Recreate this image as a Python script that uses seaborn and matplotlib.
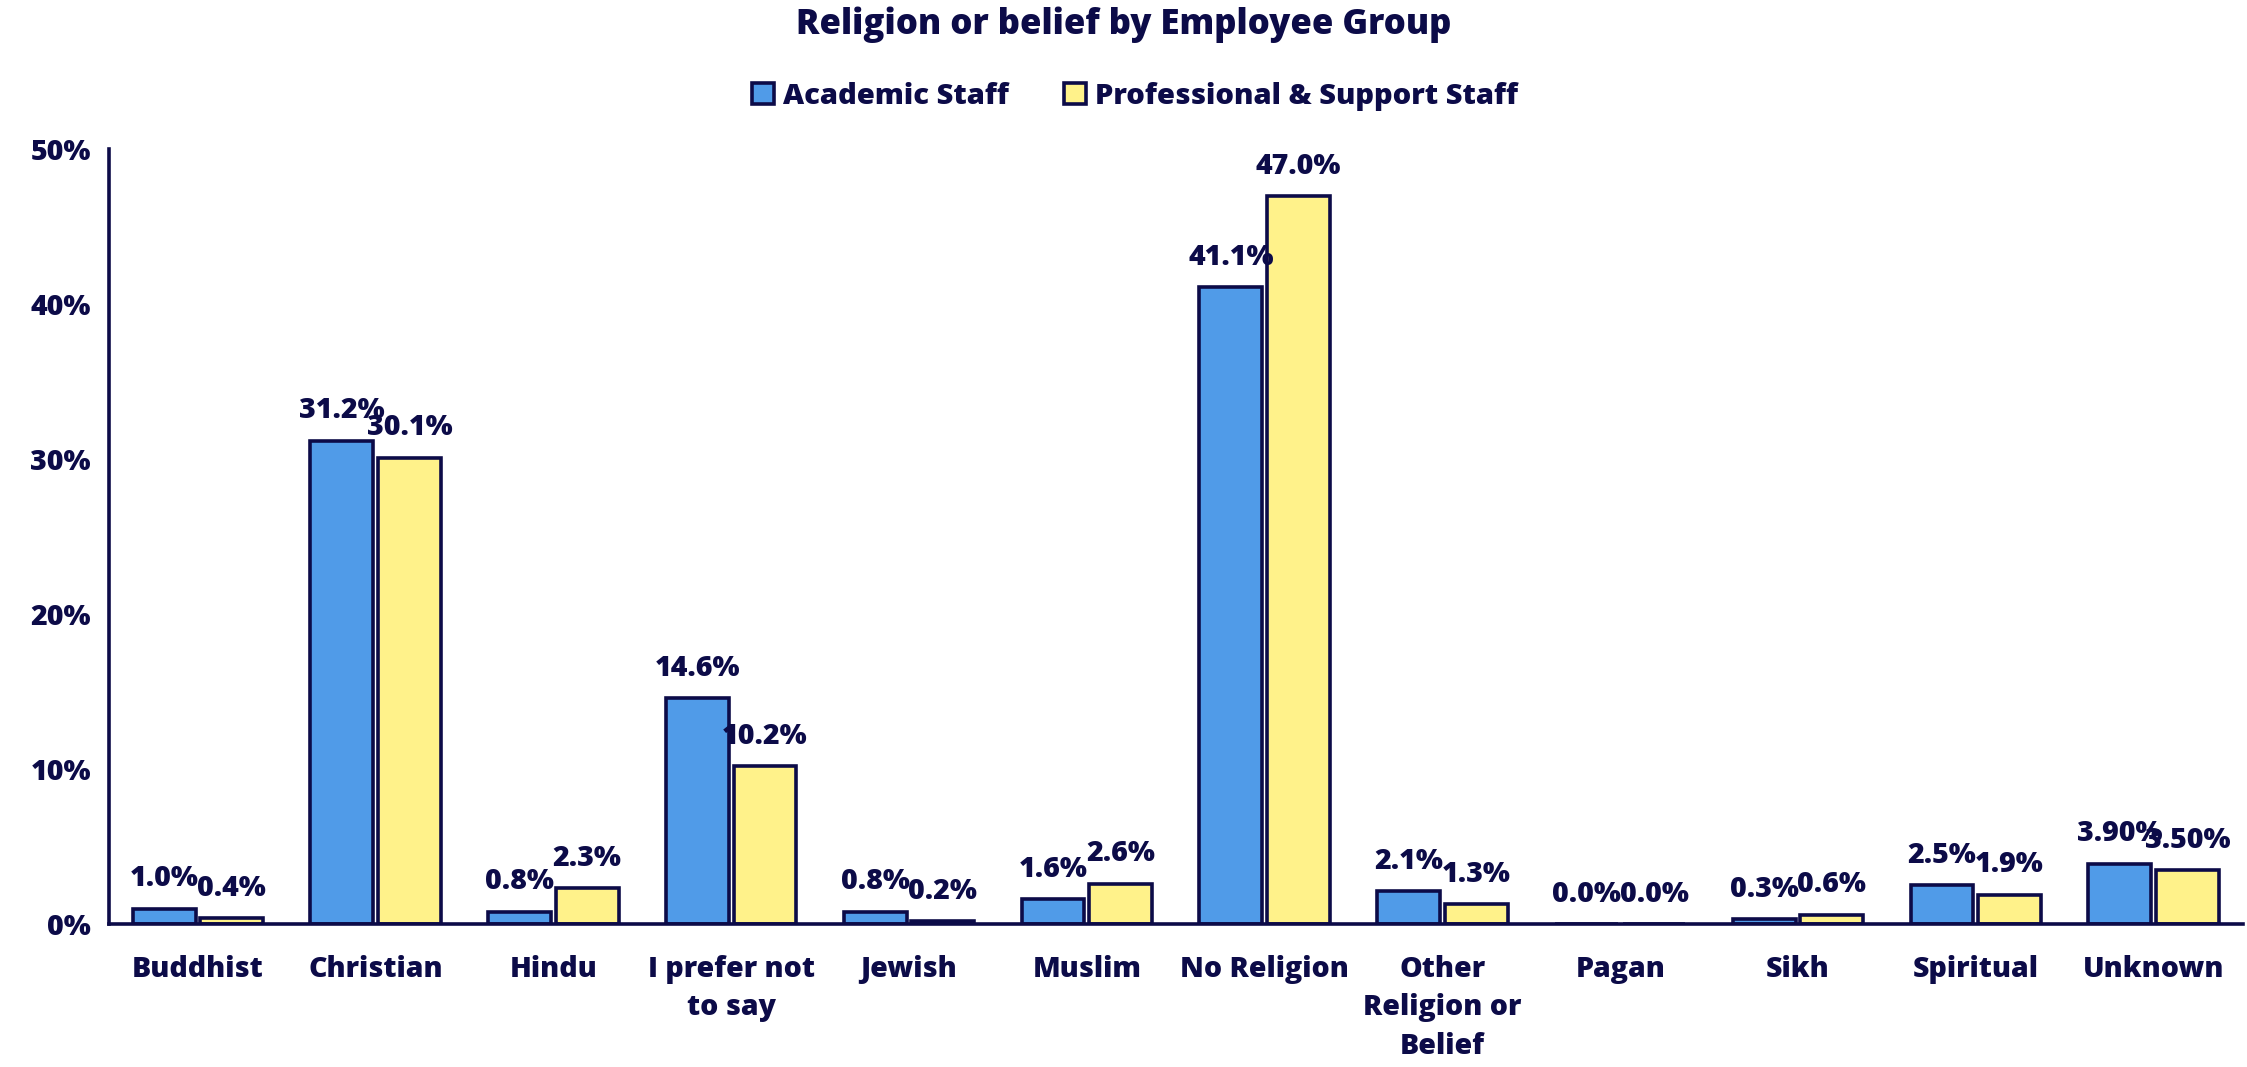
import matplotlib
matplotlib.use("Agg")
import matplotlib.pyplot as plt
import seaborn as sns
import pandas as pd
from matplotlib.patches import Patch

categories = ["Buddhist", "Christian", "Hindu", "I prefer not\nto say", "Jewish", "Muslim",
              "No Religion", "Other\nReligion or\nBelief", "Pagan", "Sikh", "Spiritual", "Unknown"]
academic = [1.0, 31.2, 0.8, 14.6, 0.8, 1.6, 41.1, 2.1, 0.0, 0.3, 2.5, 3.9]
professional = [0.4, 30.1, 2.3, 10.2, 0.2, 2.6, 47.0, 1.3, 0.0, 0.6, 1.9, 3.5]
academic_labels = ["1.0%", "31.2%", "0.8%", "14.6%", "0.8%", "1.6%", "41.1%", "2.1%", "0.0%", "0.3%", "2.5%", "3.90%"]
professional_labels = ["0.4%", "30.1%", "2.3%", "10.2%", "0.2%", "2.6%", "47.0%", "1.3%", "0.0%", "0.6%", "1.9%", "3.50%"]
groups = ["Academic Staff", "Professional & Support Staff"]
yticks = [0, 10, 20, 30, 40, 50]
ytick_labels = ["0%", "10%", "20%", "30%", "40%", "50%"]

NAVY = "#0c0b48"
BLUE = "#509be8"
YELLOW = "#fff28a"

sns.set_style("white")
plt.rcParams["font.family"] = ["Open Sans", "DejaVu Sans"]
plt.rcParams["font.weight"] = "bold"

df = pd.DataFrame({
    "Religion": categories * 2,
    "Value": academic + professional,
    "Group": [groups[0]] * len(categories) + [groups[1]] * len(categories),
})

fig = plt.figure(figsize=(22.47, 10.67), dpi=100)
ax = fig.add_axes([0.0485, 0.134, 0.9495, 0.726])

sns.barplot(data=df, x="Religion", y="Value", hue="Group", order=categories, hue_order=groups,
            palette=[BLUE, YELLOW], saturation=1, edgecolor=NAVY, linewidth=2.6, width=0.76, gap=0.07,
            errorbar=None, legend=False, ax=ax)

for cont, labs in zip(ax.containers, [academic_labels, professional_labels]):
    ax.bar_label(cont, labels=labs, padding=11, fontsize=20.5, fontweight="heavy", color=NAVY)

ax.set_xlim(-0.5, len(categories) - 0.5)
ax.set_ylim(0, 50)
ax.set_yticks(yticks)
ax.set_yticklabels(ytick_labels)
ax.set_xlabel("")
ax.set_ylabel("")
ax.tick_params(axis="x", length=0, colors=NAVY, labelsize=20.5)
ax.tick_params(axis="y", length=0, colors=NAVY, labelsize=20.5)
ax.tick_params(axis="x", pad=22)
ax.tick_params(axis="y", pad=13)
for lab in ax.get_xticklabels() + ax.get_yticklabels():
    lab.set_fontweight("heavy")
    lab.set_linespacing(1.45)
for s in ["top", "right"]:
    ax.spines[s].set_visible(False)
for s in ["left", "bottom"]:
    ax.spines[s].set_color(NAVY)
    ax.spines[s].set_linewidth(2.6)

handles = [Patch(facecolor=BLUE, edgecolor=NAVY, linewidth=2.6),
           Patch(facecolor=YELLOW, edgecolor=NAVY, linewidth=2.6)]
leg = fig.legend(handles, groups, loc="center", bbox_to_anchor=(0.505, 0.91), ncol=2, frameon=False,
                 fontsize=21, handlelength=0.75, handleheight=0.75, handletextpad=0.3, columnspacing=1.9)
for t in leg.get_texts():
    t.set_color(NAVY)
    t.set_fontweight("heavy")

fig.text(0.5, 0.977, "Religion or belief by Employee Group", ha="center", va="center",
         fontsize=25, fontweight="heavy", color=NAVY)

fig.savefig("out.png", dpi=100, facecolor="white")
